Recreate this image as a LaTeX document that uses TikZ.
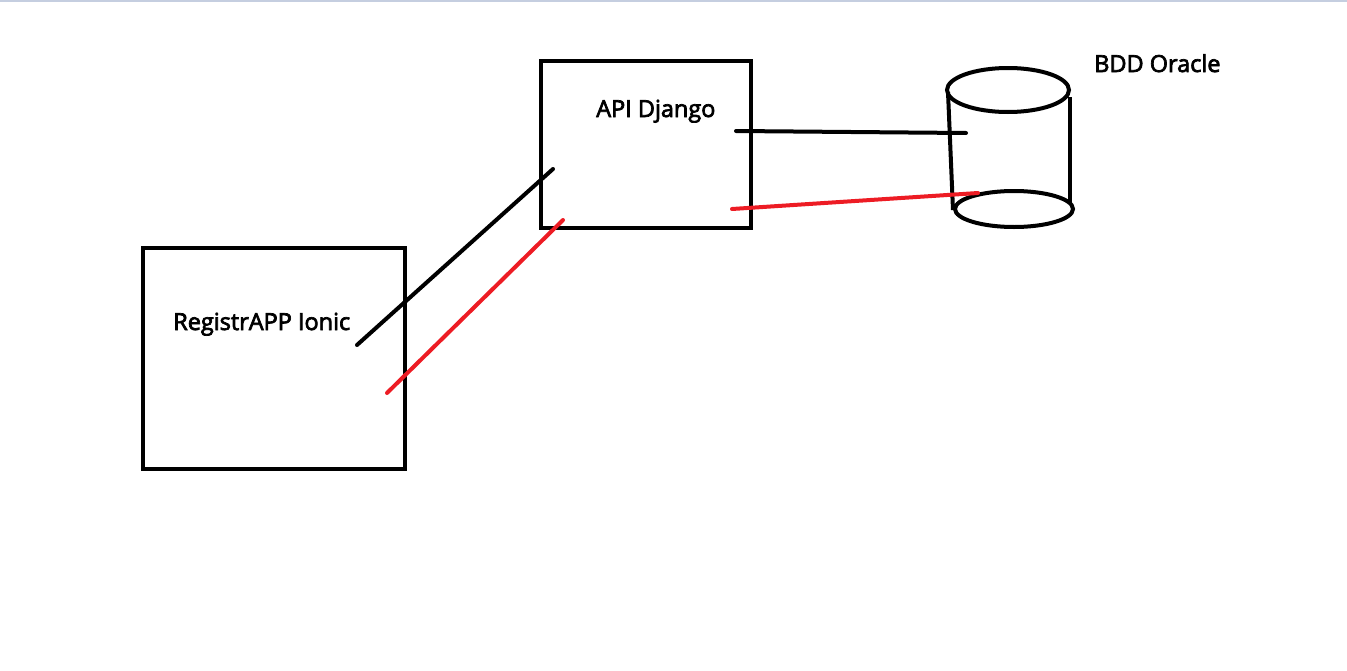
\documentclass[tikz,border=0pt]{standalone}
\usepackage{fontspec}
\setmainfont{Open Sans}[FakeBold=3]
\usetikzlibrary{shapes.geometric}
\definecolor{paintred}{HTML}{ED1C24}
\definecolor{topline}{HTML}{C5CEE0}
\tikzset{
  lbl/.style={font=\fontsize{17.6pt}{20pt}\selectfont,inner sep=0pt,anchor=base west},
  blackline/.style={draw=black,line width=3pt,line cap=round},
  redline/.style={draw=paintred,line width=3pt,line cap=round},
  cyl/.style={draw=black,line width=3pt}
}
\begin{document}
\begin{tikzpicture}[x=0.75pt,y=-0.75pt]
\useasboundingbox (0,0) rectangle (1347,671);
\draw[topline,line width=1.5pt] (0,1) -- (1347,1);
% boxes
\draw[cyl] (143,248) rectangle (405,469);
\draw[cyl] (541,61) rectangle (751,228);
\node[lbl] (reg) at (173,330) {RegistrAPP Ionic};
\node[lbl] (api) at (596,117) {API Django};
\node[lbl] (bdd) at (1094,72) {BDD Oracle};
% cylinder
\draw[cyl] (1008,90) ellipse [x radius=61, y radius=22];
\draw[cyl] (1014,209) ellipse [x radius=59, y radius=18];
\draw[cyl] (948,92) -- (953,210);
\draw[cyl] (1070,97) -- (1070,202);
% connector endpoints
\coordinate (a1) at (357,345);
\coordinate (a2) at (553,169);
\coordinate (b1) at (387,393);
\coordinate (b2) at (563,220);
\coordinate (c1) at (736,131);
\coordinate (c2) at (966,133);
\coordinate (d1) at (732,209);
\coordinate (d2) at (978,193);
\draw[blackline] (a1) -- (a2);
\draw[redline] (b1) -- (b2);
\draw[blackline] (c1) -- (c2);
\draw[redline] (d1) -- (d2);
\end{tikzpicture}
\end{document}
